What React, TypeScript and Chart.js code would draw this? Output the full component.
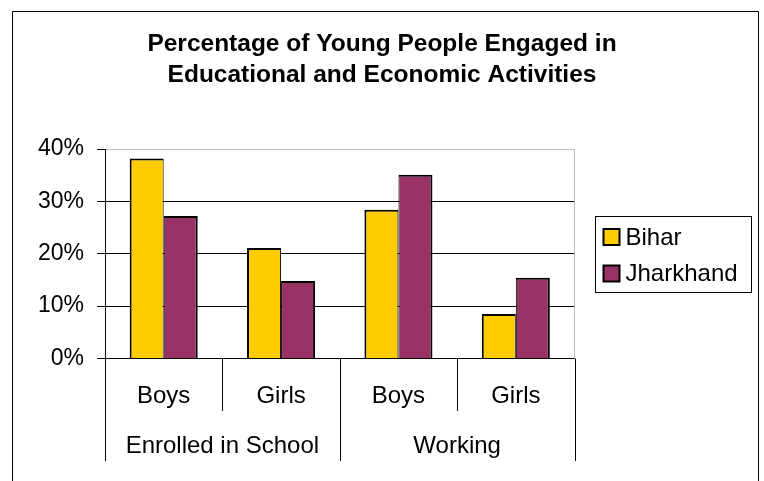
import React, { useEffect, useRef } from "react";
import { Chart, registerables } from "chart.js";

Chart.register(...registerables);

const TITLE_LINES = ["Percentage of Young People Engaged in", "Educational and Economic Activities"];
const CATEGORIES = ["Boys", "Girls", "Boys", "Girls"];
const GROUPS = ["Enrolled in School", "Working"];
const SERIES_NAMES = ["Bihar", "Jharkhand"];
const BIHAR = [38.2, 21.1, 28.4, 8.5];
const JHARKHAND = [27.2, 14.8, 35.1, 15.4];
const Y_TICKS = [0, 10, 20, 30, 40];
const COLORS = ["#FFCC00", "#993366"];

const FONT = "'Liberation Sans', Arial, Helvetica, sans-serif";

const decorPlugin = {
  id: "decor",
  afterDraw(chart: any) {
    const ctx = chart.ctx;
    const area = chart.chartArea;
    const x = chart.scales.x;
    ctx.save();
    // outer frame
    ctx.strokeStyle = "#000";
    ctx.lineWidth = 1;
    ctx.beginPath();
    ctx.moveTo(12.5, 500);
    ctx.lineTo(12.5, 11.5);
    ctx.lineTo(758.5, 11.5);
    ctx.lineTo(758.5, 500);
    ctx.stroke();

    // plot area right border (gray)
    const right = Math.round(area.right) - 0.5;
    ctx.strokeStyle = "#c0c0c0";
    ctx.beginPath();
    ctx.moveTo(right, area.top);
    ctx.lineTo(right, area.bottom);
    ctx.stroke();

    // category separators
    const n = CATEGORIES.length;
    const step = x.getPixelForValue(1) - x.getPixelForValue(0);
    const perGroup = n / GROUPS.length;
    ctx.strokeStyle = "#000";
    for (let i = 0; i <= n; i++) {
      const px = Math.round(x.getPixelForValue(i) - step / 2) + 0.5;
      const outer = i % perGroup === 0;
      ctx.beginPath();
      ctx.moveTo(px, area.bottom);
      ctx.lineTo(px, outer ? 461 : 411);
      ctx.stroke();
    }

    // labels
    ctx.fillStyle = "#000";
    ctx.font = `24px ${FONT}`;
    ctx.textAlign = "center";
    ctx.textBaseline = "middle";
    CATEGORIES.forEach((c, i) => {
      ctx.fillText(c, x.getPixelForValue(i), 396);
    });
    GROUPS.forEach((g, gi) => {
      const a = x.getPixelForValue(gi * perGroup);
      const b = x.getPixelForValue(gi * perGroup + perGroup - 1);
      ctx.fillText(g, (a + b) / 2, 446);
    });

    // legend
    const lw = 156;
    const lh = 76;
    const lx = Math.round(area.right) + 20.5;
    const ly = Math.round((area.top + area.bottom) / 2 - lh / 2) + 0.5;
    ctx.strokeStyle = "#000";
    ctx.lineWidth = 1;
    ctx.strokeRect(lx, ly, lw, lh);
    ctx.textAlign = "left";
    chart.data.datasets.forEach((ds: any, i: number) => {
      const cy = ly + 20.5 + i * 36.5;
      ctx.fillStyle = ds.backgroundColor;
      ctx.fillRect(lx + 8, cy - 8, 16, 16);
      ctx.lineWidth = 2;
      ctx.strokeStyle = "#000";
      ctx.strokeRect(lx + 8, cy - 8, 16, 16);
      ctx.fillStyle = "#000";
      ctx.fillText(ds.label, lx + 30, cy + 1);
    });
    ctx.restore();
  },
};

export default function App() {
  const ref = useRef<HTMLCanvasElement | null>(null);
  useEffect(() => {
    if (!ref.current) return;
    const chart = new Chart(ref.current, {
      type: "bar",
      data: {
        labels: CATEGORIES,
        datasets: [
          {
            label: SERIES_NAMES[0],
            data: BIHAR,
            backgroundColor: COLORS[0],
            borderColor: "#000",
            borderWidth: { top: 2, left: 2, right: 1, bottom: 0 } as any,
          },
          {
            label: SERIES_NAMES[1],
            data: JHARKHAND,
            backgroundColor: COLORS[1],
            borderColor: "#000",
            borderWidth: { top: 2, left: 1, right: 2, bottom: 0 } as any,
          },
        ],
      },
      options: {
        responsive: false,
        animation: false,
        datasets: { bar: { barPercentage: 1, categoryPercentage: 0.58 } },
        layout: { padding: 0 },
        plugins: {
          legend: { display: false },
          tooltip: { enabled: false },
          title: {
            display: true,
            text: TITLE_LINES,
            color: "#000",
            font: { family: FONT, size: 24.5, weight: "bold", lineHeight: 1.27 },
            padding: { top: 29, bottom: 57.8 },
          },
        },
        scales: {
          x: {
            type: "category",
            grid: { display: false },
            ticks: { display: false },
            border: { display: true, color: "#000", width: 1 },
            afterFit: (s: any) => {
              s.height = 122.5;
            },
          },
          y: {
            type: "linear",
            position: "left",
            min: Y_TICKS[0],
            max: Y_TICKS[Y_TICKS.length - 1],
            afterBuildTicks: (s: any) => {
              s.ticks = Y_TICKS.map((v) => ({ value: v }));
            },
            ticks: {
              color: "#000",
              padding: 13,
              font: { family: FONT, size: 23 },
              callback: (v: any) => `${v}%`,
            },
            grid: {
              color: (c: any) => (c.tick && c.tick.value === 40 ? "#c0c0c0" : "#000"),
              tickColor: "#000",
              tickLength: 8,
              lineWidth: 1,
            },
            border: { display: true, color: "#000", width: 1 },
            afterFit: (s: any) => {
              s.width = 105;
            },
          },
          y2: {
            type: "linear",
            position: "right",
            display: true,
            grid: { display: false },
            ticks: { display: false },
            border: { display: false },
            afterFit: (s: any) => {
              s.width = 189.5;
            },
          },
        },
      },
      plugins: [decorPlugin],
    });
    return () => chart.destroy();
  }, []);
  return (
    <div style={{ position: "fixed", left: 0, top: 0, width: 764, height: 481, background: "#fff" }}>
      <canvas ref={ref} width={764} height={481} style={{ display: "block" }} />
    </div>
  );
}
